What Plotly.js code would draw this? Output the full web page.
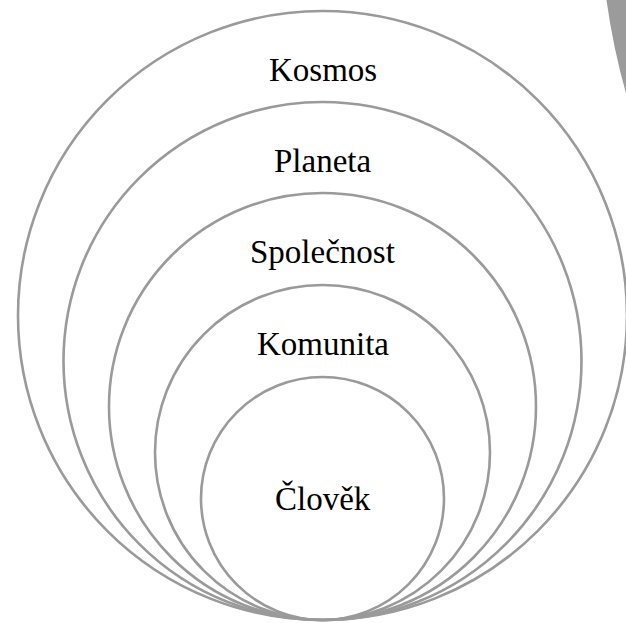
<!DOCTYPE html>
<html>
<head>
<meta charset="utf-8">
<script src="https://cdn.plot.ly/plotly-3.0.1.min.js"></script>
<style>html,body{margin:0;padding:0;background:#fff;}#chart{width:626px;height:623px;}</style>
</head>
<body>
<div id="chart"></div>
<script>
// Levels from innermost to outermost
const levels = ['Člověk', 'Komunita', 'Společnost', 'Planeta', 'Kosmos'];
// Diameter of each nested circle (all tangent at the bottom point)
const diameters = [243, 335, 427, 518, 609];

const shapes = [];
levels.forEach((name, i) => {
  shapes.push({
    type: 'circle', xref: 'x', yref: 'y',
    x0: -diameters[i] / 2, x1: diameters[i] / 2,
    y0: 0, y1: diameters[i],
    line: {color: '#9a9a9a', width: 2.6},
    fillcolor: 'rgba(0,0,0,0)'
  });
});
// decorative gray arc at top-right corner
shapes.push({
  type: 'path', xref: 'x', yref: 'y',
  path: 'M 284,625 L 284,620 Q 291,570 304,525 L 310,525 L 310,630 Z',
  fillcolor: '#9b9b9b', line: {width: 0}
});

const annotations = levels.map((name, i) => {
  let y;
  if (i === 0) y = diameters[0] / 2;
  else y = (diameters[i] + diameters[i - 1]) / 2 - 13;
  return {
    x: 0, y: y, xref: 'x', yref: 'y', text: name, showarrow: false,
    font: {family: 'Liberation Serif, serif', size: 33, color: '#000'},
    xanchor: 'center', yanchor: 'middle'
  };
});

const layout = {
  width: 626, height: 623,
  margin: {l: 0, r: 0, t: 0, b: 0},
  paper_bgcolor: '#fff', plot_bgcolor: '#fff',
  xaxis: {range: [-322.5, 303.5], visible: false, fixedrange: true},
  yaxis: {range: [-3, 620], visible: false, fixedrange: true},
  showlegend: false,
  shapes: shapes,
  annotations: annotations
};

Plotly.newPlot('chart', [{x: [0], y: [0], mode: 'markers', marker: {opacity: 0}, hoverinfo: 'skip'}], layout, {staticPlot: true, displayModeBar: false});
</script>
</body>
</html>
